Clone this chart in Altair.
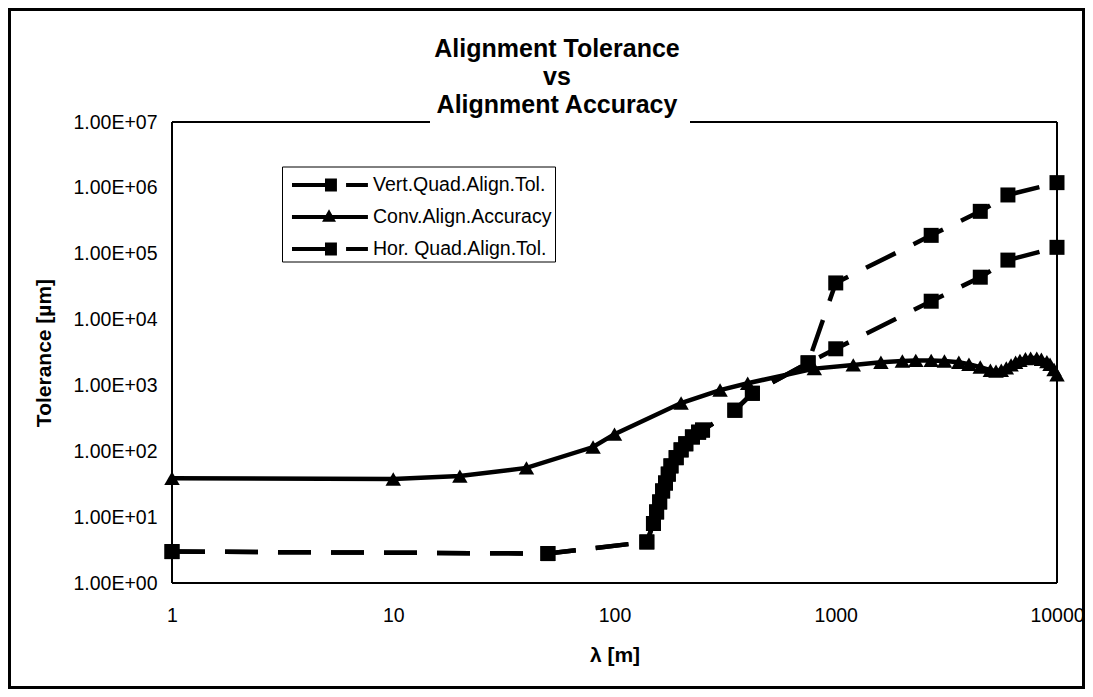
import json
import altair as alt
import pandas as pd

# ---------------- data ----------------
series_names = ["Vert.Quad.Align.Tol.", "Conv.Align.Accuracy", "Hor. Quad.Align.Tol."]

lam_conv = [1, 10, 20, 40, 80, 100, 200, 300, 400, 800, 1200, 1600, 2000, 2300, 2700,
            3100, 3600, 4000, 4500, 5000, 5300, 5600, 5900, 6200, 6500, 6800, 7200,
            7600, 8100, 8500, 9000, 9300, 9700, 10000]
tol_conv = [39, 38, 42, 56, 116, 182, 540, 850, 1080, 1800, 2050, 2250, 2350, 2400, 2400,
            2350, 2250, 2100, 1900, 1700, 1650, 1700, 1850, 2050, 2250, 2400, 2550,
            2600, 2600, 2500, 2300, 2100, 1750, 1450]

lam_quad_common = [1, 50, 140, 150, 155, 160, 165, 170, 175, 180, 190, 200, 210, 225,
                   240, 250, 350, 420, 750]
tol_quad_common = [3, 2.8, 4.2, 8, 12, 17, 25, 33, 45, 60, 80, 105, 130, 165,
                   195, 210, 420, 760, 2200]

lam_quad_tail = [1000, 2700, 4500, 6000, 10000]
tol_vert_tail = [36000, 190000, 440000, 780000, 1200000]
tol_hor_tail = [3600, 19000, 44000, 80000, 125000]

x_tick_values = [1, 10, 100, 1000, 10000]
x_tick_labels = ["1", "10", "100", "1000", "10000"]
y_tick_values = [1, 10, 100, 1000, 10000, 100000, 1000000, 10000000]
y_tick_labels = ["1.00E+00", "1.00E+01", "1.00E+02", "1.00E+03",
                 "1.00E+04", "1.00E+05", "1.00E+06", "1.00E+07"]

title_lines = ["Alignment Tolerance", "vs", "Alignment Accuracy"]

# ---------------- table ----------------
rows = []
for i, (l, t) in enumerate(zip(lam_quad_common + lam_quad_tail, tol_quad_common + tol_vert_tail)):
    rows.append({"series": series_names[0], "lam": l, "tol": t, "idx": i})
for i, (l, t) in enumerate(zip(lam_conv, tol_conv)):
    rows.append({"series": series_names[1], "lam": l, "tol": t, "idx": i})
for i, (l, t) in enumerate(zip(lam_quad_common + lam_quad_tail, tol_quad_common + tol_hor_tail)):
    rows.append({"series": series_names[2], "lam": l, "tol": t, "idx": i})
df = pd.DataFrame(rows)

# ---------------- layout ----------------
W, H = 885, 461
PAD = {"left": 164, "top": 114, "right": 28, "bottom": 106}
FONT = "Liberation Sans"

x_expr = json.dumps(x_tick_labels) + "[round(log(datum.value)/LN10)]"
y_expr = json.dumps(y_tick_labels) + "[round(log(datum.value)/LN10)]"

x_enc = alt.X("lam:Q",
              scale=alt.Scale(type="log", domain=[1, 10000]),
              axis=alt.Axis(values=x_tick_values, labelExpr=x_expr, ticks=False, domain=False,
                            grid=False, labelFontSize=19.5, labelFont=FONT, labelColor="black",
                            labelPadding=23, labelFlush=False, labelOverlap=False,
                            title="λ [m]", titleFontSize=21, titleFont=FONT,
                            titleFontWeight="bold", titleColor="black", titlePadding=20))
y_enc = alt.Y("tol:Q",
              scale=alt.Scale(type="log", domain=[1, 10000000]),
              axis=alt.Axis(values=y_tick_values, labelExpr=y_expr, ticks=False, domain=False,
                            grid=False, labelFontSize=19.5, labelFont=FONT, labelColor="black",
                            labelPadding=15, labelFlush=False, labelOverlap=False,
                            title="Tolerance [µm]", titleFontSize=21, titleFont=FONT,
                            titleFontWeight="bold", titleColor="black", titlePadding=18))

one = alt.Data(values=[{}])

frame = alt.Chart(one).mark_rect(fillOpacity=0, stroke="black", strokeWidth=3).encode(
    x=alt.value(-162.5), x2=alt.value(W + PAD["right"] - 1.5),
    y=alt.value(-PAD["top"] + 1.5), y2=alt.value(H + PAD["bottom"] - 1.5))

def rule(x1, x2, y1, y2):
    return alt.Chart(one).mark_rule(color="black", strokeWidth=2).encode(
        x=alt.value(x1), x2=alt.value(x2), y=alt.value(y1), y2=alt.value(y2))

borders = [rule(0, 0, 0, H), rule(W, W, 0, H), rule(0, W, H, H),
           rule(0, 258, 0, 0), rule(518, W, 0, 0)]

title = alt.Chart(one).mark_text(
    font=FONT, fontSize=25, fontWeight="bold", color="black", align="center",
    baseline="middle", lineBreak="\n", lineHeight=28).encode(
    x=alt.value(385), y=alt.value(-73), text=alt.value("\n".join(title_lines)))

base = alt.Chart(df).encode(x=x_enc, y=y_enc, order=alt.Order("idx:Q"))

dash = [33, 20]
line_vert = base.transform_filter(alt.datum.series == series_names[0]).mark_line(
    color="black", strokeWidth=4.5, strokeDash=dash, strokeCap="butt")
line_conv = base.transform_filter(alt.datum.series == series_names[1]).mark_line(
    color="black", strokeWidth=4.5)
line_hor = base.transform_filter(alt.datum.series == series_names[2]).mark_line(
    color="black", strokeWidth=4.5, strokeDash=dash, strokeCap="butt")

pts_quad = base.transform_filter(alt.datum.series != series_names[1]).mark_point(
    shape="square", filled=True, size=225, color="black", opacity=1)
pts_conv = base.transform_filter(alt.datum.series == series_names[1]).mark_point(
    shape="triangle-up", filled=True, size=240, color="black", opacity=1)

# legend symbols: line + marker drawn as filled paths
sym_dashed = ("M-0.55,-0.13H1.58V0.13H-0.55Z M1.58,-0.42H2.35V0.42H1.58Z "
              "M2.94,-0.13H4.35V0.13H2.94Z")
sym_solid = "M-0.55,-0.13H4.35V0.13H-0.55Z M1.39,0.3L1.84,-0.5L2.29,0.3Z"

legend_layer = base.mark_point(filled=True, color="black", opacity=0).encode(
    shape=alt.Shape("series:N",
                    scale=alt.Scale(domain=series_names, range=[sym_dashed, sym_solid, sym_dashed]),
                    legend=alt.Legend(title=None, orient="none", legendX=110, legendY=44.5,
                                      strokeColor="black", padding=3,
                                      symbolSize=961, symbolOpacity=1, symbolStrokeWidth=0,
                                      symbolFillColor="black", labelFont=FONT,
                                      labelFontSize=19.5, labelColor="black", labelOffset=57,
                                      labelLimit=0, rowPadding=7, fillColor="white")))

chart = alt.layer(frame, *borders, title, line_vert, line_hor, line_conv, pts_quad, pts_conv,
                  legend_layer).properties(
    width=W, height=H,
    padding=PAD,
    autosize=alt.AutoSizeParams(type="none"),
    background="white",
).configure_view(stroke=None).configure_legend(strokeWidth=1)

chart.save("out.html", embed_options={"renderer": "svg", "actions": False})
